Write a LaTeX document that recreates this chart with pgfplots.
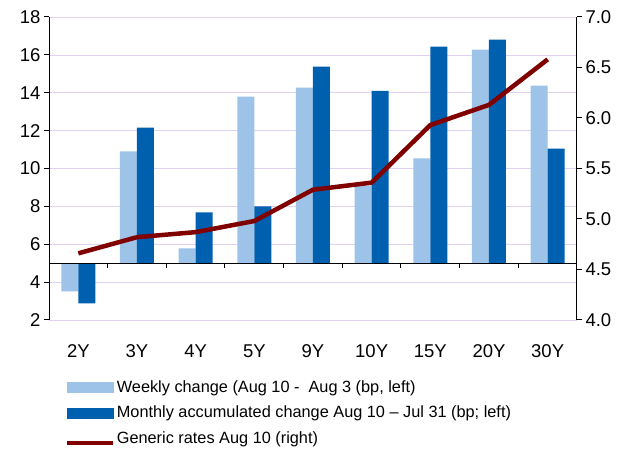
\documentclass[border=0pt]{standalone}
\usepackage{fontspec}
\setmainfont{Liberation Sans}
\usepackage{pgfplots}
\pgfplotsset{compat=1.18}
\usepackage{pgfplotstable}
\definecolor{lightbar}{RGB}{157,195,233}
\definecolor{darkbar}{RGB}{0,96,176}
\definecolor{rateline}{RGB}{128,0,0}
\definecolor{gridc}{RGB}{225,210,245}

\pgfplotstableread{
x w m r
0 3.51 2.88 4.66
1 10.9 12.16 4.82
2 5.78 7.68 4.87
3 13.8 8.0 4.98
4 14.27 15.38 5.29
5 9.1 14.1 5.36
6 10.53 16.43 5.93
7 16.28 16.8 6.13
8 14.37 11.05 6.58
}\data

\begin{document}
\begin{tikzpicture}
\useasboundingbox (-49pt,-129pt) rectangle (585pt,320pt);
\begin{axis}[
  width=528pt, height=303pt, scale only axis,
  xmin=-0.5, xmax=8.5, ymin=-3, ymax=13,
  ytick={-3,-1,1,3,5,7,9,11,13},
  yticklabels={2,4,6,8,10,12,14,16,18},
  xtick={0,...,8},
  xticklabels={2Y,3Y,4Y,5Y,9Y,10Y,15Y,20Y,30Y},
  axis y line*=left,
  axis x line*=bottom,
  x axis line style={draw=none},
  xtick style={draw=none},
  axis line style={line width=1pt},
  ytick style={line width=1pt, black},
  tick align=outside, major tick length=5pt,
  ybar=0pt, bar width=17pt,
  ymajorgrids, grid style={gridc, line width=0.7pt},
  tick label style={font=\fontsize{18.5}{21}\selectfont},
  xticklabel style={yshift=-16pt},
  /pgf/number format/assume math mode=true,
]
\addplot[fill=lightbar, draw=none] table[x=x, y expr=\thisrow{w}-5] {\data};
\addplot[fill=darkbar, draw=none] table[x=x, y expr=\thisrow{m}-5] {\data};
\draw[line width=1pt] (axis cs:-0.5,0) -- (axis cs:8.5,0);
\pgfplotsinvokeforeach{0.5,1.5,2.5,3.5,4.5,5.5,6.5,7.5}{
  \draw[line width=1pt] (axis cs:#1,0) -- ++(0pt,-5pt);
}
\end{axis}
\begin{axis}[
  width=528pt, height=303pt, scale only axis,
  xmin=-0.5, xmax=8.5, ymin=4, ymax=7,
  ytick={4,4.5,5,5.5,6,6.5,7},
  axis y line*=right,
  axis x line=none,
  axis line style={line width=1pt},
  ytick style={line width=1pt, black},
  tick align=outside, major tick length=5pt,
  tick label style={font=\fontsize{18.5}{21}\selectfont},
  yticklabel style={/pgf/number format/.cd, fixed, fixed zerofill, precision=1, assume math mode=true},
  legend style={at={(axis description cs:0.024,-0.185)}, anchor=north west,
    draw=none, fill=none, font=\fontsize{16.3}{18}\selectfont,
    row sep=8.5pt, cells={anchor=west}},
]
\addlegendimage{legend image code/.code={\fill[lightbar] (0pt,-5pt) rectangle (46pt,5pt);}}
\addlegendentry{Weekly change (Aug 10 -\ \ Aug 3 (bp, left)}
\addlegendimage{legend image code/.code={\fill[darkbar] (0pt,-5pt) rectangle (46pt,5pt);}}
\addlegendentry{Monthly accumulated change Aug 10 – Jul 31 (bp; left)}
\addplot[rateline, line width=4.5pt, line join=round, legend image code/.code={\draw[rateline, line width=4pt] (0pt,-4pt) -- (46pt,-4pt);}] table[x=x, y=r] {\data};
\addlegendentry{Generic rates Aug 10 (right)}
\end{axis}
\end{tikzpicture}
\end{document}
